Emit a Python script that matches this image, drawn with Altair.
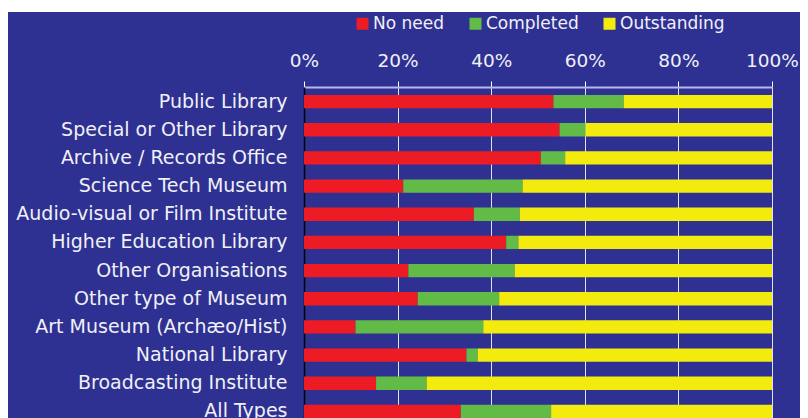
import altair as alt
import pandas as pd

categories = [
    "Public Library", "Special or Other Library", "Archive / Records Office",
    "Science Tech Museum", "Audio-visual or Film Institute", "Higher Education Library",
    "Other Organisations", "Other type of Museum", "Art Museum (Archæo/Hist)",
    "National Library", "Broadcasting Institute", "All Types",
]
no_need = [53.3, 54.6, 50.6, 21.2, 36.3, 43.2, 22.3, 24.3, 11.0, 34.7, 15.4, 33.5]
completed = [15.0, 5.6, 5.2, 25.5, 9.8, 2.6, 22.7, 17.4, 27.3, 2.4, 10.8, 19.3]
outstanding = [31.7, 39.8, 44.2, 53.3, 53.9, 54.2, 55.0, 58.3, 61.7, 62.9, 73.8, 47.2]
series = ["No need", "Completed", "Outstanding"]
colors = ["#ED1C24", "#62BB46", "#F3EA0E"]

rows = []
for i, c in enumerate(categories):
    for k, (s, vals) in enumerate(zip(series, [no_need, completed, outstanding])):
        rows.append({"category": c, "status": s, "value": vals[i], "order": k})
df = pd.DataFrame(rows)

BG = "#2E3192"
TXT = "#F0F0F6"
FONT = "DejaVu Sans"

bars = alt.Chart(df).mark_bar().encode(
    y=alt.Y("category:N", sort=categories, title=None,
            scale=alt.Scale(paddingInner=0.527, paddingOuter=0.28),
            axis=alt.Axis(ticks=False, labelPadding=17, labelFontSize=19,
                          labelColor=TXT, labelFont=FONT, domainColor="#000000",
                          domainWidth=1.5, labelLimit=400)),
    x=alt.X("value:Q", stack="normalize", title=None,
            scale=alt.Scale(domain=[0, 1]),
            axis=alt.Axis(orient="top", format="%", values=[0, 0.2, 0.4, 0.6, 0.8, 1.0],
                          labelFontSize=18.5, labelColor=TXT, labelFont=FONT,
                          labelPadding=11, tickSize=6, tickColor="#FFFFFF",
                          domainColor="#B8B8EA", domainWidth=2,
                          grid=True, gridColor="#FFFFFF", gridOpacity=0.85,
                          labelFlush=False)),
    color=alt.Color("status:N", sort=series,
                    scale=alt.Scale(domain=series, range=colors),
                    legend=alt.Legend(orient="none", legendX=50, legendY=-72,
                                      direction="horizontal", title=None,
                                      symbolType="square", symbolSize=144,
                                      symbolStrokeWidth=0, labelFontSize=17,
                                      labelFont=FONT, labelColor=TXT,
                                      labelOffset=2, columnPadding=22, padding=0,
                                      symbolOpacity=1)),
    order=alt.Order("order:Q"),
)

strip = alt.Chart(pd.DataFrame({"a": [0]})).mark_rect(color="#FFFFFF").encode(
    x=alt.value(-296), x2=alt.value(520), y=alt.value(-79), y2=alt.value(-75)
)

chart = alt.layer(bars, strip).properties(
    width=468, height=339,
    background=BG,
    padding={"left": 296, "top": 79, "right": 28, "bottom": 0},
    autosize=alt.AutoSizeParams(type="none"),
).configure_view(stroke=None)

chart.save("out.html", embed_options={"renderer": "svg", "actions": False})
